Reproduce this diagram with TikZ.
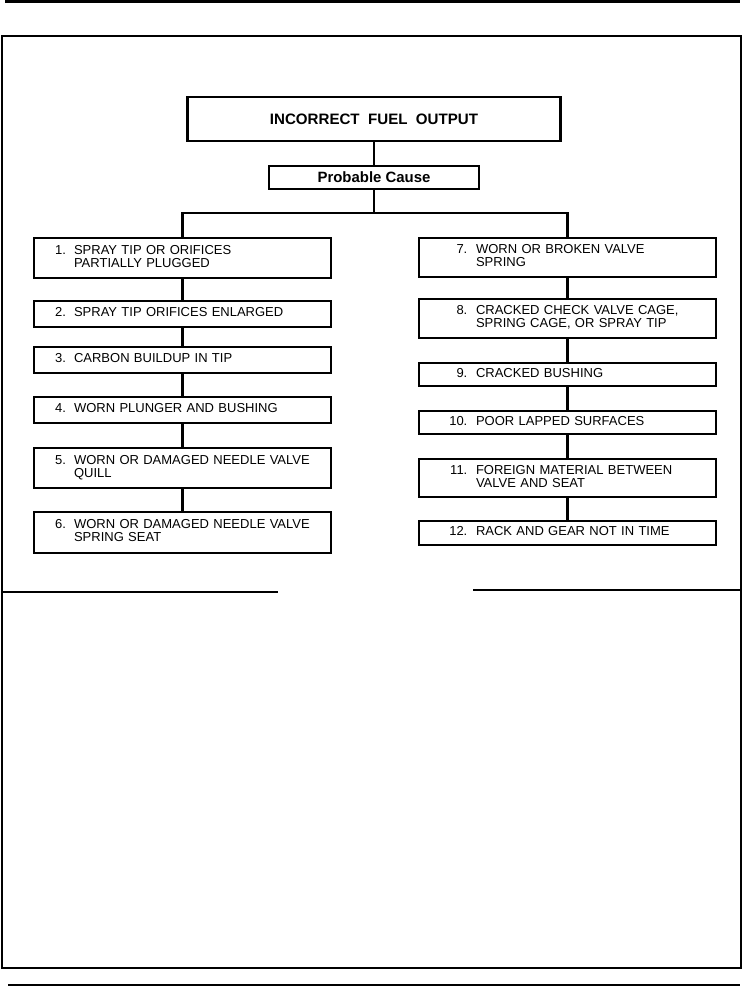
\documentclass[tikz,border=0pt]{standalone}
\usepackage{fontspec}
\setmainfont{Liberation Sans}
\newcommand{\lcause}[2]{\makebox[0.38cm][l]{#1}\begin{tabular}[t]{@{}l@{}}#2\end{tabular}}
\newcommand{\rcause}[2]{\makebox[0.48cm][r]{#1\ \ }\begin{tabular}[t]{@{}l@{}}#2\end{tabular}}
\tikzset{
  x=0.02cm,y=-0.02cm,
  headbox/.style={draw,line width=1.3pt,minimum width=7.46cm,minimum height=0.88cm,inner sep=0pt,font=\fontsize{8.6}{9}\selectfont\bfseries},
  pcbox/.style={draw,line width=0.9pt,minimum width=4.2cm,minimum height=0.46cm,inner sep=0pt,font=\fontsize{8.5}{9}\selectfont\bfseries},
  lbox/.style={draw,line width=0.8pt,text width=5.1cm,inner xsep=0.42cm,inner ysep=0pt,align=left,font=\fontsize{7.4}{7.1}\selectfont},
  rbox/.style={draw,line width=0.8pt,text width=4.62cm,inner xsep=0.66cm,inner ysep=0pt,align=left,font=\fontsize{7.4}{7.1}\selectfont},
  link/.style={line width=1.5pt}
}
\begin{document}
\begin{tikzpicture}
\useasboundingbox (0,0) rectangle (744,988);
% page rules and frame
\draw[line width=1.7pt] (5,1.5) -- (740,1.5);
\draw[line width=1.5pt] (2,36) rectangle (741,968);
\draw[line width=1.2pt] (8,985) -- (740,985);
\draw[line width=1.2pt] (2,592) -- (278,592);
\draw[line width=1.2pt] (473,590) -- (741,590);
% heading
\node[headbox] (fuel) at (374,119) {INCORRECT\ \ FUEL\ \ OUTPUT};
\node[pcbox] (cause) at (374,177.5) {Probable Cause};
\coordinate (bus) at (374,213);
% left column
\node[lbox,minimum height=0.8cm]  (c1) at (182.5,258) {\lcause{1.}{SPRAY TIP OR ORIFICES\\PARTIALLY PLUGGED}};
\node[lbox,minimum height=0.52cm] (c2) at (182.5,314) {\lcause{2.}{SPRAY TIP ORIFICES ENLARGED}};
\node[lbox,minimum height=0.52cm] (c3) at (182.5,360) {\lcause{3.}{CARBON BUILDUP IN TIP}};
\node[lbox,minimum height=0.52cm] (c4) at (182.5,410) {\lcause{4.}{WORN PLUNGER AND BUSHING}};
\node[lbox,minimum height=0.8cm]  (c5) at (182.5,468) {\lcause{5.}{WORN OR DAMAGED NEEDLE VALVE\\QUILL}};
\node[lbox,minimum height=0.82cm] (c6) at (182.5,532.5) {\lcause{6.}{WORN OR DAMAGED NEEDLE VALVE\\SPRING SEAT}};
% right column
\node[rbox,minimum height=0.78cm] (c7) at (567.5,257.5) {\rcause{7.}{WORN OR BROKEN VALVE\\SPRING}};
\node[rbox,minimum height=0.78cm] (c8) at (567.5,318.5) {\rcause{8.}{CRACKED CHECK VALVE CAGE,\\SPRING CAGE, OR SPRAY TIP}};
\node[rbox,minimum height=0.46cm] (c9) at (567.5,374.5) {\rcause{9.}{CRACKED BUSHING}};
\node[rbox,minimum height=0.46cm] (c10) at (567.5,422.5) {\rcause{10.}{POOR LAPPED SURFACES}};
\node[rbox,minimum height=0.76cm] (c11) at (567.5,478) {\rcause{11.}{FOREIGN MATERIAL BETWEEN\\VALVE AND SEAT}};
\node[rbox,minimum height=0.48cm] (c12) at (567.5,533) {\rcause{12.}{RACK AND GEAR NOT IN TIME}};
% connectors
\draw[link] (fuel) -- (cause);
\draw[link] (cause) -- (bus);
\draw[link] (c1.north) -- (c1.north |- bus) -- (c7.north |- bus) -- (c7.north);
\foreach \a/\b in {c1/c2,c2/c3,c3/c4,c4/c5,c5/c6,c7/c8,c8/c9,c9/c10,c10/c11,c11/c12}
  \draw[link] (\a) -- (\b);
\end{tikzpicture}
\end{document}
